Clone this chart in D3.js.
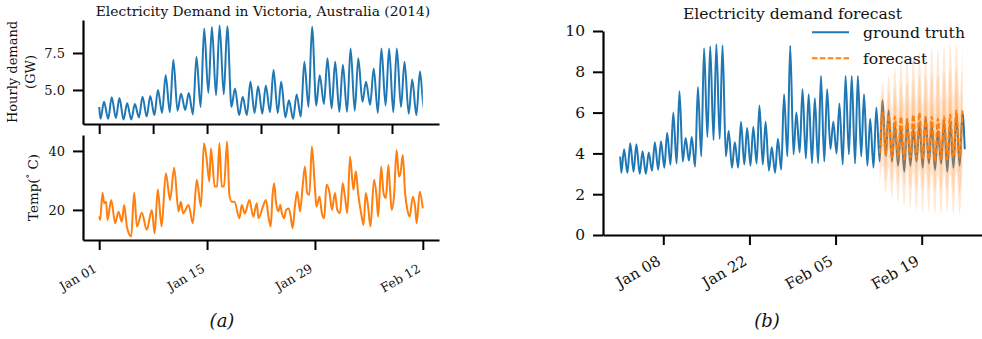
<!DOCTYPE html>
<html>
<head>
<meta charset="utf-8">
<script src="https://cdn.jsdelivr.net/npm/d3@7"></script>
<style>
  html, body { margin: 0; padding: 0; background: #fff; }
  svg { display: block; }
  text { font-family: "DejaVu Serif", serif; fill: #111; }
</style>
</head>
<body>
<svg id="fig" width="982" height="339"></svg>
<script>
// ---------------------------------------------------------------
// Data: Victoria electricity demand (GW) and temperature (°C), 2014
// ---------------------------------------------------------------

// Day index 0 = 1 Jan 2014. Demand is summarised by the overnight low
// (about 4 am) and the afternoon high (about 3 pm) of each day.
const demandStart = 3.85;          // value at 00:00 on 1 Jan
const demandEnd = 4.2;             // value at 00:00 on 26 Feb
const demandLow = [
  3.05, 3.05, 3.1, 3.0, 3.0, 3.15, 3.2, 3.3, 3.45, 3.5,
  3.6, 3.65, 3.35, 3.85, 4.8, 4.65, 4.7, 3.85, 3.3, 3.3,
  3.45, 3.4, 3.5, 3.45, 3.15, 3.05, 3.2, 3.85, 3.95, 4.05,
  3.75, 3.52, 3.52, 3.6, 4.2, 4.0, 3.45, 3.95, 3.5, 3.85,
  3.4, 3.3,
  3.6, 3.9, 3.6, 3.4, 3.1, 3.4, 3.6, 3.3, 3.5, 3.2, 3.5, 3.1, 3.3, 3.4
];
const demandHigh = [
  4.2, 4.5, 4.45, 4.1, 4.05, 4.55, 4.6, 5.0, 6.0, 7.05,
  4.75, 4.8, 7.25, 9.15, 9.25, 9.35, 9.3, 5.1, 4.55, 5.55,
  5.25, 5.3, 6.35, 5.55, 4.3, 4.7, 6.9, 9.28, 6.0, 7.14,
  6.9, 6.7, 7.8, 7.15, 5.55, 6.45, 7.8, 7.8, 7.8, 6.9,
  5.7, 6.25,
  6.6, 6.1, 5.4, 5.3, 5.6, 5.2, 5.5, 5.8, 5.4, 5.1, 5.6, 5.5, 5.9, 6.0
];
const lowHour = 4;
const highHour = 15;

// Hourly temperature, main turning points (day index, °C)
const tempDay = [
  0.0, 0.13, 0.43, 0.65, 0.9, 1.08, 1.56, 2.08, 2.5, 2.94,
  3.24, 3.6, 4.15, 4.54, 4.9, 5.53, 6.18, 6.83, 7.2, 7.6,
  8.1, 8.65, 9.2, 9.73, 10.3, 10.6, 10.9, 11.6, 12.15, 12.67,
  13.2, 13.6, 13.96, 14.3, 14.5, 15.0, 15.3, 15.6, 15.9, 16.2,
  16.6, 16.9, 17.2, 17.55, 18.2, 18.5, 18.9, 19.5, 20.0, 20.45,
  20.67, 21.3, 21.65, 21.97, 22.26, 22.5, 22.7, 22.96, 23.26, 23.5,
  23.7, 24.0, 24.25, 24.6, 24.86, 25.1, 25.4, 25.7, 26.07, 26.4,
  26.7, 27.0, 27.28, 27.6, 28.0, 28.2, 28.6, 28.9, 29.2, 29.5,
  29.9, 30.2, 30.6, 30.9, 31.25, 31.6, 31.9, 32.2, 32.55, 33.0,
  33.3, 33.6, 34.07, 34.3, 34.6, 34.9, 35.2, 35.67, 36.0, 36.2,
  36.6, 36.9, 37.2, 37.53, 37.75, 37.96, 38.26, 38.6, 38.9, 39.1,
  39.4, 39.7, 40.0, 40.3, 40.7, 41.0, 41.2, 41.6, 42.0
];
const tempValue = [
  17.8, 16.6, 25.8, 22.3, 22.8, 16.6, 23.4, 15.5, 19.4, 16.0,
  21.7, 14.3, 11.0, 25.8, 14.4, 19.0, 13.3, 20.0, 12.1, 26.9,
  14.4, 32.4, 23.4, 34.3, 19.5, 22.8, 18.8, 21.7, 15.5, 30.2,
  21.1, 42.6, 36.9, 29.6, 40.8, 27.9, 27.9, 42.6, 27.9, 27.9,
  43.2, 25.0, 22.8, 22.8, 17.2, 21.7, 18.8, 23.4, 17.7, 22.3,
  17.2, 21.5, 23.4, 17.7, 14.4, 25.1, 29.0, 22.3, 19.5, 21.7,
  19.0, 17.2, 20.0, 20.5, 17.7, 13.8, 21.1, 26.2, 19.5, 27.9,
  34.7, 25.7, 25.1, 41.5, 27.4, 21.1, 24.5, 18.9, 17.2, 28.5,
  25.7, 20.0, 25.7, 20.0, 18.9, 29.0, 24.5, 18.9, 38.0, 26.8,
  33.1, 25.7, 17.7, 14.9, 25.7, 21.1, 14.4, 30.2, 24.5, 17.7,
  34.7, 25.7, 24.0, 35.2, 26.8, 20.0, 24.5, 40.3, 31.3, 32.4,
  38.6, 25.7, 20.0, 17.7, 24.5, 21.1, 15.5, 26.2, 20.5
];

// Two-week forecast from 12 Feb: alternating overnight low / afternoon high
const forecastFirstDay = 42;
const forecastMedian = [
  4.0, 6.0, 3.9, 5.9, 3.8, 5.8, 3.8, 5.8, 3.7, 5.7, 3.8, 5.9, 3.8, 6.0,
  3.7, 5.8, 3.7, 5.8, 3.6, 5.7, 3.7, 5.8, 3.7, 5.9, 3.8, 6.1, 3.8, 6.1
];
const innerLow = [
  3.5, 5.3, 3.4, 5.2, 3.3, 5.1, 3.3, 5.1, 3.2, 5.0, 3.2, 5.1, 3.2, 5.1,
  3.1, 5.0, 3.1, 5.0, 3.0, 4.9, 3.1, 5.0, 3.0, 5.1, 3.1, 5.2, 3.1, 5.2
];
const innerHigh = [
  4.5, 6.6, 4.4, 6.5, 4.4, 6.5, 4.4, 6.5, 4.3, 6.5, 4.4, 6.7, 4.5, 6.8,
  4.4, 6.6, 4.4, 6.6, 4.3, 6.5, 4.4, 6.7, 4.4, 6.8, 4.5, 7.0, 4.6, 7.0
];
const middleLow = [
  2.9, 4.4, 2.7, 4.3, 2.6, 4.2, 2.5, 4.2, 2.4, 4.1, 2.3, 4.1, 2.3, 4.1,
  2.2, 4.0, 2.2, 4.0, 2.1, 3.9, 2.1, 4.0, 2.1, 4.0, 2.0, 4.0, 2.0, 4.1
];
const middleHigh = [
  5.1, 6.9, 5.2, 7.1, 5.2, 7.3, 5.3, 7.4, 5.3, 7.5, 5.4, 7.7, 5.4, 7.8,
  5.4, 7.8, 5.5, 7.9, 5.5, 7.9, 5.5, 8.0, 5.6, 8.1, 5.6, 8.2, 5.7, 8.2
];
const outerLow = [
  2.4, 3.4, 2.0, 3.3, 1.8, 3.3, 1.6, 3.2, 1.4, 3.2, 1.3, 3.1, 1.2, 3.2,
  1.1, 3.1, 1.1, 3.0, 1.0, 3.0, 1.0, 3.1, 1.1, 3.0, 1.0, 3.1, 1.0, 3.2
];
const outerHigh = [
  6.0, 7.4, 6.1, 7.8, 6.2, 8.2, 6.2, 8.5, 6.3, 8.6, 6.4, 8.9, 6.5, 9.0,
  6.4, 9.0, 6.5, 9.2, 6.5, 9.1, 6.6, 9.3, 6.7, 9.4, 6.7, 9.4, 6.8, 9.3
];

// Axis ticks
const demandTicks = [5.0, 7.5];
const tempTicks = [20, 40];
const rightYTicks = [0, 2, 4, 6, 8, 10];
const weeklyTicks = ["2014-01-01", "2014-01-08", "2014-01-15", "2014-01-22", "2014-02-01", "2014-02-08"];
const leftDateTicks = ["2014-01-01", "2014-01-15", "2014-01-29", "2014-02-12"];
const rightDateTicks = ["2014-01-08", "2014-01-22", "2014-02-05", "2014-02-19"];

// ---------------------------------------------------------------
const BLUE = "#1f77b4";
const ORANGE = "#ff7f0e";
const DAY_MS = 864e5;
const T0 = Date.UTC(2014, 0, 1);
const toDate = d => new Date(T0 + d * DAY_MS);
const fmtDate = d3.utcFormat("%b %d");

const demandKnots = [{ t: 0, v: demandStart }];
demandLow.forEach((lo, i) => {
  demandKnots.push({ t: i + lowHour / 24, v: lo });
  demandKnots.push({ t: i + highHour / 24, v: demandHigh[i] });
});
demandKnots.push({ t: demandLow.length, v: demandEnd });

const tempKnots = tempDay.map((t, i) => ({ t, v: tempValue[i] }));

const fcTime = i => forecastFirstDay + Math.floor(i / 2) + (i % 2 ? highHour : lowHour) / 24;
const bands = [
  { lo: outerLow, hi: outerHigh },
  { lo: middleLow, hi: middleHigh },
  { lo: innerLow, hi: innerHigh }
];

const svg = d3.select("#fig");

function styleAxis(g, fontSize) {
  g.select(".domain").attr("stroke", "#000").attr("stroke-width", 2.2);
  g.selectAll(".tick line").attr("stroke", "#000").attr("stroke-width", 2);
  g.selectAll(".tick text").attr("font-size", fontSize).attr("fill", "#111")
    .attr("font-family", '"DejaVu Serif", serif');
}

function rotateLabels(g, dx, dy) {
  g.selectAll(".tick text")
    .attr("x", 0).attr("y", 0).attr("dy", 0)
    .attr("text-anchor", "end")
    .attr("transform", `translate(${dx},${dy}) rotate(-30)`);
}

// ---------------- Left figure (a) ----------------
const L = { x0: 83, x1: 439 };
const topP = { y0: 20, y1: 124 };
const botP = { y0: 135, y1: 240 };
const leftDays = 42;
const leftPad = leftDays * 0.05;

const xL = d3.scaleUtc()
  .domain([toDate(-leftPad), toDate(leftDays + leftPad)])
  .range([L.x0, L.x1]);
const yDemand = d3.scaleLinear().domain([2.7, 9.73]).range([topP.y1, topP.y0]);
const yTemp = d3.scaleLinear().domain([9.8, 45.4]).range([botP.y1, botP.y0]);

svg.append("defs").append("clipPath").attr("id", "leftClip")
  .append("rect")
  .attr("x", xL(toDate(0)) - 2).attr("y", 0)
  .attr("width", xL(toDate(leftDays)) - xL(toDate(0)) + 2).attr("height", 339);

const lineDemandL = d3.line()
  .x(d => xL(toDate(d.t))).y(d => yDemand(d.v))
  .curve(d3.curveMonotoneX);

svg.append("path")
  .datum(demandKnots.filter(d => d.t <= leftDays + 0.7))
  .attr("clip-path", "url(#leftClip)")
  .attr("d", lineDemandL)
  .attr("fill", "none").attr("stroke", BLUE).attr("stroke-width", 2)
  .attr("stroke-linejoin", "round");

const lineTemp = d3.line()
  .x(d => xL(toDate(d.t))).y(d => yTemp(d.v))
  .curve(d3.curveMonotoneX);

svg.append("path")
  .datum(tempKnots)
  .attr("d", lineTemp)
  .attr("fill", "none").attr("stroke", ORANGE).attr("stroke-width", 2)
  .attr("stroke-linejoin", "round");

// Top panel axes
const gTopY = svg.append("g").attr("transform", `translate(${L.x0},0)`)
  .call(d3.axisLeft(yDemand).tickValues(demandTicks).tickFormat(d3.format(".1f"))
    .tickSize(10).tickPadding(8).tickSizeOuter(0));
styleAxis(gTopY, 13);

const gTopX = svg.append("g").attr("transform", `translate(0,${topP.y1})`)
  .call(d3.axisBottom(xL).tickValues(weeklyTicks.map(s => new Date(s + "T00:00Z")))
    .tickFormat("").tickSize(10).tickSizeOuter(0));
styleAxis(gTopX, 12);

// Bottom panel axes
const gBotY = svg.append("g").attr("transform", `translate(${L.x0},0)`)
  .call(d3.axisLeft(yTemp).tickValues(tempTicks).tickFormat(d3.format("d"))
    .tickSize(10).tickPadding(8).tickSizeOuter(0));
styleAxis(gBotY, 13);

const gBotX = svg.append("g").attr("transform", `translate(0,${botP.y1})`)
  .call(d3.axisBottom(xL).tickValues(leftDateTicks.map(s => new Date(s + "T00:00Z")))
    .tickFormat(fmtDate).tickSize(10).tickSizeOuter(0));
styleAxis(gBotX, 12.5);
rotateLabels(gBotX, -2, 31);

// Labels and title (a)
svg.append("text")
  .attr("x", (L.x0 + L.x1) / 2 + 2).attr("y", 15.5)
  .attr("text-anchor", "middle").attr("font-size", 13.8)
  .text("Electricity Demand in Victoria, Australia (2014)");

const ylab = svg.append("text")
  .attr("transform", `translate(17,${(topP.y0 + topP.y1) / 2}) rotate(-90)`)
  .attr("text-anchor", "middle").attr("font-size", 13);
ylab.append("tspan").attr("x", 0).attr("dy", 0).text("Hourly demand");
ylab.append("tspan").attr("x", 0).attr("dy", "1.4em").text("(GW)");

const tlab = svg.append("text")
  .attr("transform", `translate(38,${(botP.y0 + botP.y1) / 2}) rotate(-90)`)
  .attr("text-anchor", "middle").attr("font-size", 13.5);
tlab.append("tspan").text("Temp(");
tlab.append("tspan").attr("font-size", 9).attr("dy", -5).text("°");
tlab.append("tspan").attr("dy", 5).text(" C)");

svg.append("text")
  .attr("x", 222).attr("y", 327)
  .attr("text-anchor", "middle").attr("font-size", 18).attr("font-style", "italic")
  .text("(a)");

// ---------------- Right figure (b) ----------------
const R = { x0: 603, x1: 982, y0: 31, y1: 235 };
const rightDays = demandLow.length;
const rightPad = rightDays * 0.05;

const xR = d3.scaleUtc()
  .domain([toDate(-rightPad), toDate(rightDays + rightPad)])
  .range([R.x0, R.x1]);
const yR = d3.scaleLinear().domain([0, 10]).range([R.y1, R.y0]);

const lineR = d3.line()
  .x(d => xR(toDate(d.t))).y(d => yR(d.v))
  .curve(d3.curveMonotoneX);

svg.append("path")
  .datum(demandKnots)
  .attr("d", lineR)
  .attr("fill", "none").attr("stroke", BLUE).attr("stroke-width", 2)
  .attr("stroke-linejoin", "round");

const areaR = d3.area()
  .x(d => xR(toDate(d.t))).y0(d => yR(d.lo)).y1(d => yR(d.hi))
  .curve(d3.curveMonotoneX);

bands.forEach(b => {
  const pts = b.lo.map((lo, i) => ({ t: fcTime(i), lo, hi: b.hi[i] }));
  svg.append("path").datum(pts)
    .attr("d", areaR)
    .attr("fill", ORANGE).attr("fill-opacity", 0.18).attr("stroke", "none");
});

svg.append("path")
  .datum(forecastMedian.map((v, i) => ({ t: fcTime(i), v })))
  .attr("d", lineR)
  .attr("fill", "none").attr("stroke", ORANGE).attr("stroke-width", 2)
  .attr("stroke-dasharray", "5.5,2.4");

const gRY = svg.append("g").attr("transform", `translate(${R.x0},0)`)
  .call(d3.axisLeft(yR).tickValues(rightYTicks).tickFormat(d3.format("d"))
    .tickSize(10).tickPadding(8).tickSizeOuter(0));
styleAxis(gRY, 15.5);

const gRX = svg.append("g").attr("transform", `translate(0,${R.y1})`)
  .call(d3.axisBottom(xR).tickValues(rightDateTicks.map(s => new Date(s + "T00:00Z")))
    .tickFormat(fmtDate).tickSize(10).tickSizeOuter(0));
styleAxis(gRX, 15);
rotateLabels(gRX, -2, 29);

svg.append("text")
  .attr("x", (R.x0 + R.x1) / 2).attr("y", 18.5)
  .attr("text-anchor", "middle").attr("font-size", 15.6)
  .text("Electricity demand forecast");

// Legend
const legend = svg.append("g").attr("transform", "translate(812,0)");
legend.append("line").attr("x1", 0).attr("x2", 37).attr("y1", 32.3).attr("y2", 32.3)
  .attr("stroke", BLUE).attr("stroke-width", 2);
legend.append("line").attr("x1", 0).attr("x2", 37).attr("y1", 58.3).attr("y2", 58.3)
  .attr("stroke", ORANGE).attr("stroke-width", 2).attr("stroke-dasharray", "5.5,2.4");
legend.append("text").attr("x", 51).attr("y", 38).attr("font-size", 15.6).text("ground truth");
legend.append("text").attr("x", 51).attr("y", 64).attr("font-size", 15.6).text("forecast");

svg.append("text")
  .attr("x", 767).attr("y", 327)
  .attr("text-anchor", "middle").attr("font-size", 18).attr("font-style", "italic")
  .text("(b)");
</script>
</body>
</html>
